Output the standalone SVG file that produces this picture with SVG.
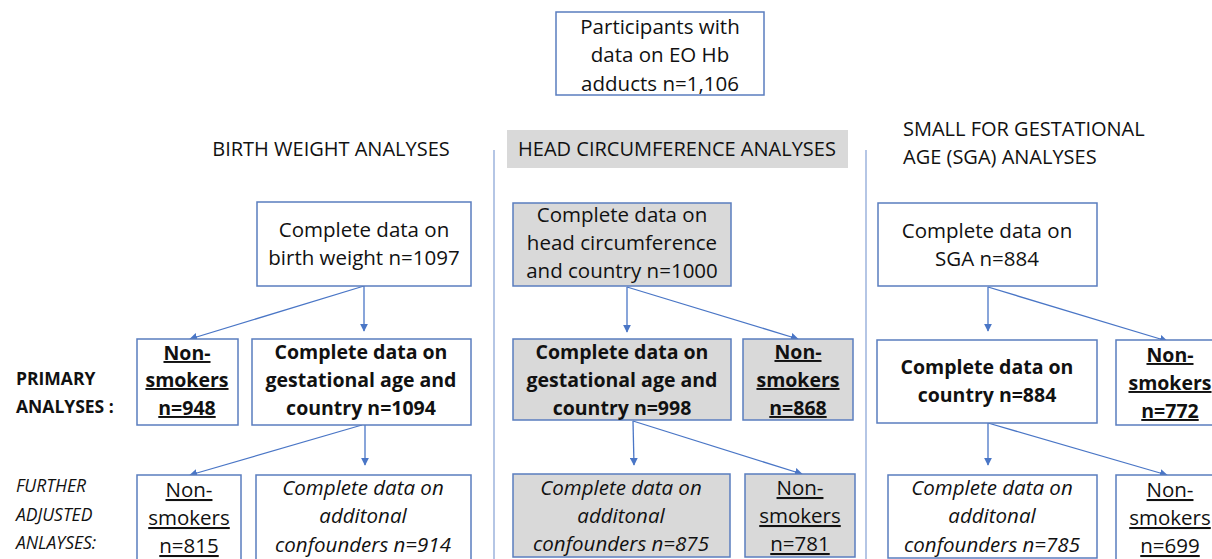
<svg xmlns="http://www.w3.org/2000/svg" width="1212" height="559" viewBox="0 0 1212 559">
<style>
text{font-family:"Open Sans","Noto Sans",sans-serif;fill:#111;font-size:20.5px;text-anchor:middle}
.b{font-weight:bold;font-size:19.5px}
.i{font-style:italic}
.u{text-decoration:underline}
.l{text-anchor:start}
.h{font-size:20px}
.lb{font-size:17.5px}
.box{fill:#fff;stroke:#5a7dbf;stroke-width:1.5}
.g{fill:#d9d9d9}
.div{stroke:#9db3dc;stroke-width:1.5}
.arr{stroke:#4a76c6;stroke-width:1.3;fill:none;marker-end:url(#ah)}
</style>
<defs>
<marker id="ah" viewBox="0 0 10 10" refX="9" refY="5" markerWidth="8" markerHeight="8" orient="auto" markerUnits="userSpaceOnUse">
<path d="M0,0 L10,5 L0,10 z" fill="#4a76c6"/>
</marker>
</defs>
<rect width="1212" height="559" fill="#fff"/>

<g id="dividers">
<line class="div" x1="494" y1="150" x2="494" y2="559"/>
<line class="div" x1="866" y1="150" x2="866" y2="559"/>
</g>

<g id="top">
<rect class="box" x="556" y="12" width="208" height="83"/>
<text x="660" y="34">Participants with</text>
<text x="660" y="62">data on EO Hb</text>
<text x="660" y="91">adducts n=1,106</text>
</g>

<g id="headers">
<text class="h" x="331" y="156">BIRTH WEIGHT ANALYSES</text>
<rect x="507" y="130" width="341" height="38" fill="#d9d9d9"/>
<text class="h" x="677" y="156">HEAD CIRCUMFERENCE ANALYSES</text>
<text class="l h" x="903" y="136">SMALL FOR GESTATIONAL</text>
<text class="l h" x="903" y="164">AGE (SGA) ANALYSES</text>
</g>

<g id="rowlabels">
<text class="l b lb" x="16" y="385">PRIMARY</text>
<text class="l b lb" x="16" y="413">ANALYSES :</text>
<text class="l i lb" x="16" y="492">FURTHER</text>
<text class="l i lb" x="16" y="521">ADJUSTED</text>
<text class="l i lb" x="16" y="549">ANLAYSES:</text>
</g>

<g id="connectors">
<line class="arr" x1="364" y1="286" x2="190" y2="339"/>
<line class="arr" x1="364" y1="286" x2="364" y2="331"/>
<line class="arr" x1="362" y1="425" x2="190" y2="475"/>
<line class="arr" x1="365" y1="425" x2="365" y2="465"/>
<line class="arr" x1="627" y1="287" x2="627" y2="332"/>
<line class="arr" x1="627" y1="287" x2="798" y2="339"/>
<line class="arr" x1="633" y1="421" x2="634" y2="465"/>
<line class="arr" x1="633" y1="421" x2="802" y2="474"/>
<line class="arr" x1="988" y1="287" x2="988" y2="331"/>
<line class="arr" x1="988" y1="287" x2="1167" y2="341"/>
<line class="arr" x1="988" y1="423" x2="988" y2="465"/>
<line class="arr" x1="988" y1="423" x2="1167" y2="475"/>
</g>

<g id="bw-complete">
<rect class="box" x="257" y="202" width="214" height="84"/>
<text x="364" y="237">Complete data on</text>
<text x="364" y="265">birth weight n=1097</text>
</g>
<g id="bw-nonsmokers">
<rect class="box" x="137" y="339" width="101" height="86"/>
<text class="b u" x="187" y="360">Non-</text>
<text class="b u" x="187" y="387">smokers</text>
<text class="b u" x="187" y="415">n=948</text>
</g>
<g id="bw-gest">
<rect class="box" x="252" y="339" width="219" height="86"/>
<text class="b" x="361" y="359">Complete data on</text>
<text class="b" x="361" y="387">gestational age and</text>
<text class="b" x="361" y="415">country n=1094</text>
</g>
<g id="bw-nonsmokers2">
<rect class="box" x="137" y="475" width="104" height="90"/>
<text class="u" x="189" y="497">Non-</text>
<text class="u" x="189" y="525">smokers</text>
<text class="u" x="189" y="553">n=815</text>
</g>
<g id="bw-conf">
<rect class="box" x="256" y="475" width="215" height="90"/>
<text class="i" x="363" y="495">Complete data on</text>
<text class="i" x="363" y="523">additonal</text>
<text class="i" x="363" y="552">confounders n=914</text>
</g>

<g id="hc-complete">
<rect class="box g" x="513" y="203" width="218" height="83"/>
<text x="622" y="222">Complete data on</text>
<text x="622" y="250">head circumference</text>
<text x="622" y="278">and country n=1000</text>
</g>
<g id="hc-gest">
<rect class="box g" x="513" y="339" width="218" height="81"/>
<text class="b" x="622" y="359">Complete data on</text>
<text class="b" x="622" y="387">gestational age and</text>
<text class="b" x="622" y="415">country n=998</text>
</g>
<g id="hc-nonsmokers">
<rect class="box g" x="743" y="339" width="110" height="81"/>
<text class="b u" x="798" y="359">Non-</text>
<text class="b u" x="798" y="387">smokers</text>
<text class="b u" x="798" y="415">n=868</text>
</g>
<g id="hc-conf">
<rect class="box g" x="513" y="474" width="217" height="83"/>
<text class="i" x="621" y="495">Complete data on</text>
<text class="i" x="621" y="523">additonal</text>
<text class="i" x="621" y="551">confounders n=875</text>
</g>
<g id="hc-nonsmokers2">
<rect class="box g" x="745" y="474" width="110" height="83"/>
<text class="u" x="800" y="495">Non-</text>
<text class="u" x="800" y="523">smokers</text>
<text class="u" x="800" y="551">n=781</text>
</g>

<g id="sga-complete">
<rect class="box" x="878" y="203" width="219" height="83"/>
<text x="987" y="238">Complete data on</text>
<text x="987" y="266">SGA n=884</text>
</g>
<g id="sga-country">
<rect class="box" x="877" y="340" width="220" height="83"/>
<text class="b" x="987" y="374">Complete data on</text>
<text class="b" x="987" y="402">country n=884</text>
</g>
<g id="sga-nonsmokers">
<rect class="box" x="1116" y="340" width="100" height="85"/>
<text class="b u" x="1170" y="362">Non-</text>
<text class="b u" x="1170" y="390">smokers</text>
<text class="b u" x="1170" y="418">n=772</text>
</g>
<g id="sga-conf">
<rect class="box" x="888" y="475" width="209" height="83"/>
<text class="i" x="992" y="495">Complete data on</text>
<text class="i" x="992" y="523">additonal</text>
<text class="i" x="992" y="552">confounders n=785</text>
</g>
<g id="sga-nonsmokers2">
<rect class="box" x="1116" y="475" width="100" height="90"/>
<text class="u" x="1170" y="497">Non-</text>
<text class="u" x="1170" y="525">smokers</text>
<text class="u" x="1170" y="553">n=699</text>
</g>
</svg>
